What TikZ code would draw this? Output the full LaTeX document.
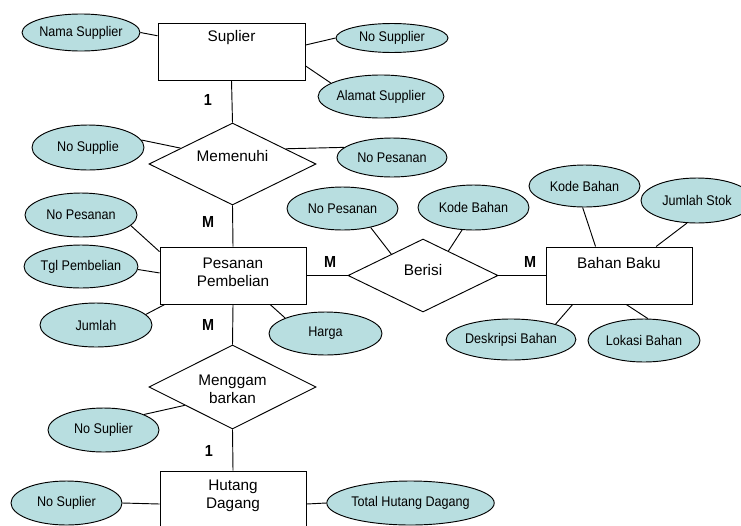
\documentclass[tikz,border=0pt]{standalone}
\usepackage{fontspec}
\setmainfont{Liberation Sans}
\newfontfamily\narrowsans[FakeStretch=0.9]{Liberation Sans}
\usetikzlibrary{shapes.geometric}
\definecolor{attrfill}{RGB}{184,222,224}
\begin{document}
\begin{tikzpicture}[x=0.75pt,y=-0.75pt,
  line width=0.7pt,
  attr/.style 2 args={ellipse, draw, fill=attrfill, inner sep=0pt,
    minimum width=#1*0.75pt, minimum height=#2*0.75pt,
    font=\narrowsans\fontsize{10.5}{12}\selectfont},
  entity/.style 2 args={rectangle, draw, fill=white, inner sep=0pt,
    minimum width=#1*0.75pt, minimum height=#2*0.75pt},
  relation/.style 2 args={diamond, draw, fill=white, inner sep=0pt,
    minimum width=#1*0.75pt, minimum height=#2*0.75pt},
  caption/.style={inner sep=0pt, align=center,
    font=\fontsize{11.5}{13.5}\selectfont},
  card/.style={inner sep=0pt, font=\narrowsans\bfseries\fontsize{12}{14}\selectfont},
  conn/.style={draw}]
\useasboundingbox (0,0) rectangle (741,525);
\clip (0,0) rectangle (741,525);

% entities
\node[entity={147}{57}] (sup) at (231.5,51.5) {};
\node[caption] (supt) at (231.5,38) {Suplier};
\node[entity={146}{57}] (pp) at (233,275.5) {};
\node[caption] (ppt) at (233,272) {Pesanan\\Pembelian};
\node[entity={146}{57}] (bb) at (619,275.5) {};
\node[caption] (bbt) at (619,263) {Bahan Baku};
\node[entity={146}{66}] (hd) at (233,504) {};
\node[caption] (hdt) at (233,495.5) {Hutang\\Dagang};

% relationships
\node[relation={167}{82}] (mem) at (232.5,164) {};
\node[caption] (memt) at (232.5,156) {Memenuhi};
\node[relation={150}{73}] (ber) at (423,275.5) {};
\node[caption] (bert) at (423,270) {Berisi};
\node[relation={167}{84}] (mgb) at (232.5,387) {};
\node[caption] (mgbt) at (232.5,389) {Menggam\\barkan};

% attributes
\node[attr={112}{37}] (nama) at (81,32.5) {Nama Supplier};
\node[attr={112}{29}] (nosup) at (392,38) {No Supplier};
\node[attr={102}{43}] (alamat) at (381,96.5) {Alamat Supplier};
\node[attr={112}{45}] (nosupplie) at (88,147.5) {No Supplie};
\node[attr={110}{39}] (nopesa) at (392,157.5) {No Pesanan};
\node[attr={112}{44}] (nopesb) at (81,215) {No Pesanan};
\node[attr={112}{43}] (tgl) at (81,266.5) {Tgl Pembelian};
\node[attr={112}{44}] (jumlah) at (96,325) {Jumlah};
\node[attr={113}{43}] (harga) at (325.5,333.5) {Harga};
\node[attr={111}{43}] (nopesc) at (342.5,208.5) {No Pesanan};
\node[attr={111}{45}] (kodea) at (473.5,207.5) {Kode Bahan};
\node[attr={111}{42}] (kodeb) at (584.5,186) {Kode Bahan};
\node[attr={112}{45}] (stok) at (697,200.5) {Jumlah Stok};
\node[attr={112}{41}] (desk) at (511,339.5) {Deskripsi Bahan};
\node[attr={112}{43}] (lokasi) at (644,340.5) {Lokasi Bahan};
\node[attr={111}{44}] (nosupa) at (103.5,430) {No Suplier};
\node[attr={111}{44}] (nosupb) at (66.5,503) {No Suplier};
\node[attr={135}{44}] (total) at (410.5,503) {Total Hutang Dagang};

% connectors
\draw (nama.east) -- (sup.168);
\draw (sup.5) -- (nosup.west);
\draw (sup.-11) -- (alamat.165);
\draw (sup.south) -- (mem.north);
\draw (nosupplie.8) -- (mem.163);
\draw (mem.16) -- (nopesa.168);
\draw (mem.south) -- (pp.north);
\draw (nopesb.-12) -- (pp.162);
\draw (tgl.-3) -- (pp.178);
\draw (jumlah.12) -- (pp.203);
\draw (pp.-38) -- (harga.159);
\draw (pp.east) -- (ber.west);
\draw (nopesc.-34) -- (ber.146);
\draw (kodea.243) -- (ber.44);
\draw (ber.east) -- (bb.west);
\draw (kodeb.265) -- (bb.129);
\draw (stok.246) -- (bb.38);
\draw (bb.212) -- (desk.19);
\draw (bb.-76) -- (lokasi.80);
\draw (pp.south) -- (mgb.north);
\draw (nosupa.21) -- (mgb.201);
\draw (mgb.south) -- (hd.north);
\draw (nosupb.east) -- (hd.west);
\draw (hd.east) -- (total.west);

% cardinalities
\node[card] (c1) at (208,100) {1};
\node[card] (c2) at (208,222) {M};
\node[card] (c3) at (208,325) {M};
\node[card] (c4) at (209,451) {1};
\node[card] (c5) at (330,262) {M};
\node[card] (c6) at (530,262) {M};
\end{tikzpicture}
\end{document}
